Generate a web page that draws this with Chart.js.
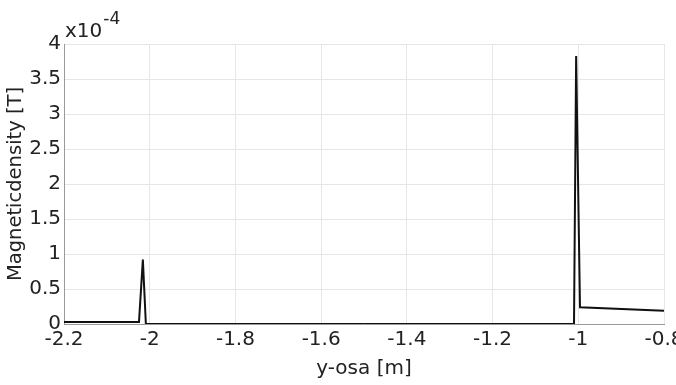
<!DOCTYPE html>
<html>
<head>
    <title>Magnetic density</title>
    <script src="https://cdn.jsdelivr.net/npm/chart.js"></script>
    <style>
        * { margin: 0; padding: 0; box-sizing: border-box; }
        body { background: #fff; width: 676px; height: 385px; overflow: hidden; }
        .wrap { position: relative; width: 700px; height: 385px; }
    </style>
</head>
<body>
    <div class="wrap">
        <canvas id="chart" width="700" height="385"></canvas>
    </div>
    <script>
        // positions along y axis [m]
        const positions = [-2.2, -2.025, -2.016, -2.009, -1.01, -1.005, -0.996, -0.8];
        // magnetic density, in units of 1e-4 T
        const density = [0.03, 0.03, 0.92, 0.0, 0.0, 3.83, 0.24, 0.19];

        const xTicks = [-2.2, -2, -1.8, -1.6, -1.4, -1.2, -1, -0.8];
        const yTicks = [0, 0.5, 1, 1.5, 2, 2.5, 3, 3.5, 4];

        const fontFamily = "'DejaVu Sans', sans-serif";

        // exponent label above the y axis
        const exponentLabel = {
            id: 'exponentLabel',
            afterDraw(chart) {
                const ctx = chart.ctx;
                const left = chart.chartArea.left;
                const top = chart.chartArea.top;
                ctx.save();
                ctx.fillStyle = '#222';
                ctx.textBaseline = 'alphabetic';
                ctx.font = "20px " + fontFamily;
                ctx.fillText('x10', left + 1, top - 7);
                const w = ctx.measureText('x10').width;
                ctx.font = "17px " + fontFamily;
                ctx.fillText('-4', left + 2 + w, top - 20);
                ctx.restore();
            }
        };

        new Chart(document.getElementById('chart'), {
            type: 'line',
            data: {
                datasets: [{
                    data: positions.map((p, i) => ({ x: p, y: density[i] })),
                    borderColor: '#111',
                    borderWidth: 2,
                    pointRadius: 0,
                    tension: 0,
                    fill: false
                }]
            },
            options: {
                responsive: false,
                animation: false,
                devicePixelRatio: 1,
                layout: { padding: { top: 44, right: 36, left: 0, bottom: 0 } },
                plugins: { legend: { display: false }, tooltip: { enabled: false } },
                scales: {
                    x: {
                        type: 'linear',
                        min: -2.2,
                        max: -0.8,
                        afterBuildTicks: (scale) => { scale.ticks = xTicks.map(v => ({ value: v })); },
                        afterFit: (scale) => { scale.height = 61; },
                        grid: { color: '#e6e6e6', drawTicks: false },
                        border: { color: '#999' },
                        ticks: {
                            color: '#222',
                            padding: 4,
                            autoSkip: false,
                            maxRotation: 0,
                            font: { family: fontFamily, size: 20 },
                            callback: (v) => String(Math.round(v * 10) / 10)
                        },
                        title: {
                            display: true,
                            text: 'y-osa [m]',
                            color: '#222',
                            padding: { top: 2 },
                            font: { family: fontFamily, size: 20 }
                        }
                    },
                    y: {
                        min: 0,
                        max: 4,
                        afterBuildTicks: (scale) => { scale.ticks = yTicks.map(v => ({ value: v })); },
                        afterFit: (scale) => { scale.width = 64; },
                        grid: { color: '#e6e6e6', drawTicks: false },
                        border: { color: '#999' },
                        ticks: {
                            color: '#222',
                            padding: 3,
                            autoSkip: false,
                            font: { family: fontFamily, size: 20 },
                            callback: (v) => String(v)
                        },
                        title: {
                            display: true,
                            text: 'Magneticdensity [T]',
                            color: '#222',
                            padding: { bottom: 2 },
                            font: { family: fontFamily, size: 19.5 }
                        }
                    }
                }
            },
            plugins: [exponentLabel]
        });
    </script>
</body>
</html>
